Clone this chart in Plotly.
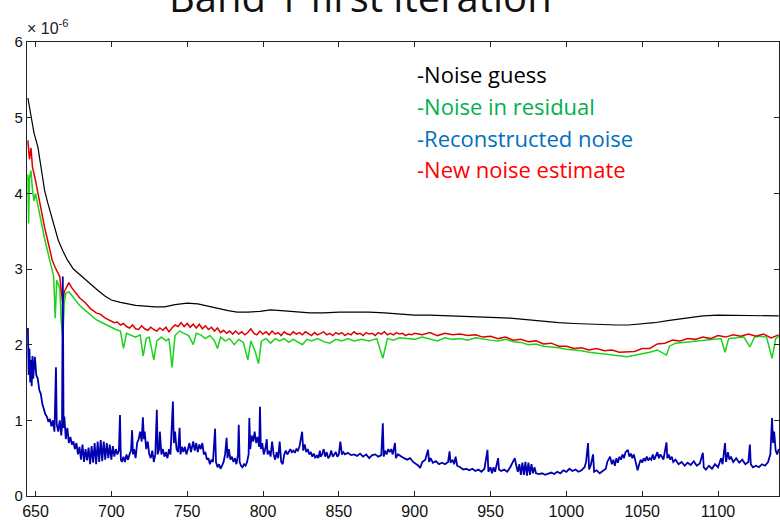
import plotly.graph_objects as go

# ---------------- data (values in units of 1e-6) ----------------
guess_x = [645, 647, 649, 651.6, 654, 656, 658, 661, 663, 665, 668, 671, 675, 681, 686, 691, 696, 700, 706,
           716, 729, 735, 742, 750, 757, 763, 770, 777, 783, 790, 798, 805, 812, 820, 831, 840, 850, 860,
           870, 880, 890, 900, 910, 920, 930, 941, 950, 963, 975, 987, 995, 1005, 1015, 1025, 1033, 1041,
           1049, 1058, 1068, 1078, 1090, 1100, 1112, 1125, 1140]
guess_y = [5.26, 5.05, 4.80, 4.61, 4.30, 4.04, 3.88, 3.65, 3.50, 3.38, 3.24, 3.12, 3.00, 2.89, 2.80, 2.72,
           2.64, 2.59, 2.56, 2.52, 2.50, 2.50, 2.53, 2.55, 2.54, 2.51, 2.48, 2.45, 2.43, 2.43, 2.44, 2.46,
           2.45, 2.44, 2.42, 2.42, 2.43, 2.43, 2.43, 2.42, 2.40, 2.39, 2.39, 2.38, 2.37, 2.36, 2.36, 2.35,
           2.33, 2.30, 2.29, 2.28, 2.27, 2.26, 2.26, 2.26, 2.27, 2.29, 2.32, 2.35, 2.38, 2.39, 2.39, 2.38, 2.38]

resid_x = [645, 645.5, 646, 647, 648, 649, 650, 652, 654, 656, 658, 660, 661, 662, 663, 664, 665, 666, 667,
           668, 669, 670, 672, 674, 676, 679, 683, 686, 690, 693, 696, 700, 703, 706, 708, 710, 713, 716, 719,
           721, 723, 725, 728, 730, 733, 736, 738, 740, 742, 745, 748, 751, 754, 756, 759, 762, 765, 768, 770,
           772, 775, 778, 781, 784, 787, 790, 792, 795, 797, 799, 802, 805, 808, 811, 814, 817, 820, 823, 826,
           829, 832, 836, 840, 844, 848, 852, 856, 860, 865, 870, 875, 879, 882, 886, 890, 895, 900, 905, 910,
           915, 920, 925, 930, 935, 940, 945, 950, 955, 960, 965, 970, 975, 980, 985, 990, 995, 1000, 1005,
           1010, 1015, 1020, 1025, 1030, 1035, 1040, 1045, 1050, 1055, 1060, 1066, 1068, 1072, 1077, 1082,
           1087, 1092, 1097, 1102, 1104.6, 1107, 1112, 1117, 1121, 1124, 1128, 1132, 1135.6, 1138, 1140]
resid_y = [4.25, 3.60, 4.20, 4.30, 4.05, 3.90, 4.00, 3.78, 3.60, 3.40, 3.22, 3.05, 2.98, 2.90, 2.35, 2.85,
           2.80, 2.75, 2.30, 2.10, 2.55, 2.68, 2.70, 2.65, 2.60, 2.52, 2.45, 2.40, 2.33, 2.30, 2.27, 2.22,
           2.20, 2.18, 1.95, 2.15, 2.12, 2.10, 2.13, 1.85, 2.08, 2.10, 1.80, 2.05, 2.10, 2.05, 2.08, 1.70,
           2.12, 2.18, 2.15, 2.12, 2.00, 2.15, 2.13, 2.08, 2.12, 2.05, 1.95, 2.10, 2.05, 2.08, 2.00, 2.07,
           2.03, 1.80, 2.05, 1.90, 1.75, 2.05, 2.08, 2.02, 2.08, 2.05, 2.08, 2.03, 2.07, 2.04, 2.00, 2.07,
           2.05, 2.08, 2.04, 2.02, 2.07, 2.05, 2.08, 2.05, 2.07, 2.05, 2.08, 1.82, 2.08, 2.06, 2.09, 2.08,
           2.07, 2.10, 2.08, 2.05, 2.09, 2.07, 2.08, 2.06, 2.09, 2.07, 2.06, 2.05, 2.07, 2.04, 2.03, 2.00,
           2.01, 1.98, 1.97, 1.96, 1.94, 1.93, 1.92, 1.90, 1.89, 1.88, 1.86, 1.85, 1.84, 1.86, 1.88, 1.90,
           1.93, 1.86, 1.98, 2.02, 2.03, 2.04, 2.05, 2.06, 2.07, 2.08, 1.90, 2.08, 2.09, 2.10, 1.97, 2.10,
           2.11, 2.10, 1.82, 2.08, 2.11]

est_x = [645, 646, 647, 648, 650, 652, 654, 656, 658, 661, 663, 665, 666, 667, 668, 669, 671, 672, 674, 676,
         679, 683, 686, 690, 693, 696,
         700, 702, 704, 706, 708, 710, 712, 714, 716, 718, 720, 722, 724, 726, 728, 730, 732, 734, 736, 738,
         740, 742, 744, 746, 748, 750, 752, 754, 756, 758, 760, 762, 764, 766, 768, 770, 772, 774, 776, 778,
         780, 782, 784, 786, 788, 790, 792, 794, 796, 798, 800, 802, 804, 806, 808, 810, 812, 814, 816, 818,
         820, 822, 824, 826, 828, 830, 832, 834, 836, 838, 840, 842, 844, 846, 848, 850, 852, 854, 856, 858,
         860, 862, 864, 866, 868, 870, 872, 874, 876, 878, 880, 882, 884, 886, 888, 890, 892, 894, 896, 898,
         900, 905, 910, 915, 920, 925, 930, 935, 940, 945, 950, 955, 960, 965, 970, 975, 980, 985, 990, 995,
         1000, 1005, 1010, 1015, 1020, 1025, 1030, 1035, 1040, 1045, 1050, 1055, 1060, 1065, 1070, 1075,
         1080, 1085, 1090, 1095, 1100, 1105, 1110, 1115, 1120, 1125, 1130, 1135, 1140]
est_y = [4.70, 4.45, 4.60, 4.35, 4.17, 3.95, 3.74, 3.55, 3.38, 3.12, 3.02, 2.95, 2.90, 2.70, 2.55, 2.70,
         2.78, 2.82, 2.75, 2.70, 2.62, 2.55, 2.48, 2.42, 2.40, 2.35,
         2.31, 2.29, 2.30, 2.26, 2.28, 2.24, 2.22, 2.26, 2.21, 2.20, 2.25, 2.21, 2.19, 2.23, 2.20, 2.18,
         2.22, 2.19, 2.23, 2.17, 2.22, 2.26, 2.24, 2.29, 2.24, 2.28, 2.23, 2.27, 2.22, 2.27, 2.21, 2.25,
         2.20, 2.23, 2.18, 2.22, 2.16, 2.19, 2.15, 2.18, 2.14, 2.18, 2.14, 2.17, 2.13, 2.16, 2.21, 2.15,
         2.13, 2.18, 2.14, 2.17, 2.13, 2.18, 2.14, 2.16, 2.12, 2.17, 2.14, 2.13, 2.17, 2.14, 2.16, 2.13,
         2.17, 2.15, 2.12, 2.16, 2.13, 2.15, 2.17, 2.13, 2.15, 2.12, 2.16, 2.14, 2.16, 2.12, 2.15, 2.13,
         2.17, 2.14, 2.15, 2.12, 2.16, 2.14, 2.15, 2.12, 2.16, 2.14, 2.17, 2.13, 2.15, 2.13, 2.16, 2.14,
         2.15, 2.12, 2.14, 2.13,
         2.15, 2.13, 2.16, 2.12, 2.15, 2.13, 2.14, 2.12, 2.13, 2.10, 2.11, 2.08, 2.10, 2.06, 2.07, 2.04,
         2.05, 2.01, 2.02, 1.98, 1.98, 1.95, 1.96, 1.93, 1.95, 1.92, 1.93, 1.90, 1.91, 1.91, 1.95, 1.95,
         2.01, 2.02, 2.06, 2.05, 2.08, 2.07, 2.10, 2.08, 2.12, 2.10, 2.13, 2.11, 2.14, 2.11, 2.14, 2.09, 2.13]

recon_x = [645, 645.5, 646, 646.5, 647, 647.5, 648, 648.5, 649, 649.6, 650.5, 651.5, 652.5, 653.5, 654.5,
           655.5, 656.5, 657.5, 658.5, 659.5, 660.5, 661.5, 662.5, 663.5, 664, 665, 666, 667, 667.5, 668,
           668.5, 669, 670, 671, 672, 673, 674, 675, 676, 677, 678, 679, 680, 681, 682, 683, 684, 685, 686,
           687, 688, 689, 690, 691, 692, 693, 694, 695, 696, 697, 698, 699, 700, 701, 702, 703, 704, 705,
           705.7, 706.3, 707, 708, 709, 710, 711, 712, 713, 713.7, 714.3, 715, 716, 717, 718, 719, 720,
           720.8, 721.5, 722, 723, 724, 725, 726, 727, 728, 729, 730, 730.6, 731.5, 732, 733, 734, 735, 736,
           737, 738, 739, 740.6, 741.2, 742, 743, 744, 745, 745.6, 746.5, 747.5, 748.5, 749.5, 750.5, 751.5,
           752.5, 753.5, 754, 755, 756, 757, 758, 759, 760, 761, 762, 763, 764, 765, 766, 767, 768.4, 769,
           770, 771, 772, 773, 774, 775, 776, 776.6, 777.5, 778.5, 779.5, 780.5, 781.5, 782.5, 783.5, 784,
           784.6, 785.5, 786.5, 787.5, 788.5, 789.5, 790.5, 791, 791.6, 792.5, 793.5, 794.5, 795.5, 796.5,
           797.5, 798, 798.6, 799.5, 800.5, 801.5, 802.5, 803, 804, 805, 806, 807, 808, 809, 810, 811, 812,
           813, 814, 815, 816, 817, 818, 819, 820, 821, 822, 823, 824, 825.8, 826.5, 827.5, 828.5, 829.5,
           830.5, 831.5, 832.5, 833.5, 834.5, 835.5, 836.5, 837.5, 838, 839, 840, 841, 842, 843, 844, 845,
           846, 847, 848, 849, 850, 851, 852, 853, 854, 856, 858, 860, 862, 864, 866, 868, 870, 872, 874,
           876, 878, 879, 879.6, 880.5, 881.5, 882.5, 883.5, 884.5, 885.5, 887, 887.6, 889, 891, 893, 895,
           897, 899, 901, 902.5, 903.6, 905, 907, 908.8, 909.5, 910.5, 912, 914, 916, 918, 920, 922, 923,
           923.6, 925, 926, 927, 928, 930, 932, 934, 936, 938, 940, 942, 944, 946, 948, 948.6, 950, 951,
           952, 953, 954, 955, 955.6, 957, 959, 961, 963, 965, 966, 967, 968, 969, 970, 971, 972, 973, 974,
           975, 976, 977, 978, 979, 980, 982, 984, 986, 988, 990, 992, 994, 996, 998, 1000, 1002, 1004, 1006,
           1008, 1010, 1012, 1013, 1014.3, 1015, 1016, 1017.6, 1018.3, 1020, 1022, 1024, 1026, 1027, 1028.8,
           1030, 1031, 1032, 1033, 1034, 1035, 1036, 1037, 1038, 1039, 1040.6, 1041.5, 1042.5, 1043.5,
           1044.5, 1045.5, 1047, 1048, 1049, 1050, 1051, 1052, 1053, 1054, 1055, 1056, 1057, 1058, 1059,
           1060, 1061, 1062, 1063, 1064, 1066, 1066.6, 1067.5, 1068.5, 1069.5, 1070.5, 1072, 1074, 1076,
           1078, 1080, 1082, 1084, 1086, 1088, 1090, 1090.6, 1092, 1094, 1096, 1098, 1100, 1102, 1103,
           1104.6, 1105.3, 1106.5, 1107.5, 1108.5, 1110, 1112, 1114, 1116, 1118, 1120, 1121, 1121.6, 1123,
           1125, 1127, 1129, 1131, 1133, 1134.5, 1135.6, 1136.3, 1137, 1138, 1139, 1140]
recon_y = [2.22, 1.60, 1.95, 1.50, 1.80, 1.45, 1.85, 1.55, 1.70, 1.84, 1.60, 1.55, 1.40, 1.35, 1.22, 1.15,
           1.08, 1.05, 0.98, 1.02, 0.92, 1.00, 0.85, 1.70, 0.95, 0.85, 1.00, 0.80, 0.95, 2.90, 0.90, 1.05,
           0.75, 0.90, 0.70, 0.78, 0.68, 0.72, 0.62, 0.70, 0.55, 0.65, 0.48, 0.68, 0.45, 0.62, 0.47, 0.64,
           0.42, 0.66, 0.44, 0.70, 0.42, 0.72, 0.45, 0.74, 0.46, 0.72, 0.48, 0.70, 0.50, 0.68, 0.48, 0.66,
           0.52, 0.62, 0.55, 0.60, 1.07, 0.48, 0.45, 0.52, 0.45, 0.55, 0.48, 0.55, 0.60, 0.87, 0.55, 0.62,
           0.50, 0.70, 0.75, 0.85, 0.72, 1.04, 0.75, 0.85, 0.62, 0.72, 0.55, 0.50, 0.60, 0.45, 0.55, 1.14,
           0.55, 0.62, 0.85, 0.55, 0.62, 0.52, 0.58, 0.50, 0.62, 0.55, 1.25, 0.70, 0.85, 0.62, 0.58, 0.90,
           0.55, 0.65, 0.58, 0.65, 0.55, 0.62, 0.70, 0.58, 0.65, 0.72, 0.60, 0.70, 0.58, 0.68, 0.62, 0.70,
           0.55, 0.58, 0.48, 0.50, 0.42, 0.48, 0.45, 0.89, 0.45, 0.38, 0.42, 0.36, 0.40, 0.45, 0.55, 0.77,
           0.50, 0.62, 0.48, 0.52, 0.45, 0.50, 0.42, 0.55, 0.94, 0.45, 0.40, 0.38, 0.42, 0.40, 0.45, 0.55,
           1.03, 0.62, 0.80, 0.72, 0.85, 0.70, 0.78, 0.65, 1.18, 0.62, 0.70, 0.55, 0.62, 0.75, 0.55, 0.60,
           0.52, 0.72, 0.55, 0.48, 0.58, 0.50, 0.72, 0.45, 0.42, 0.55, 0.60, 0.55, 0.58, 0.62, 0.58, 0.60,
           0.57, 0.62, 0.60, 0.65, 0.85, 0.60, 0.68, 0.58, 0.62, 0.55, 0.58, 0.52, 0.56, 0.50, 0.54, 0.50,
           0.60, 0.52, 0.55, 0.62, 0.52, 0.58, 0.50, 0.53, 0.60, 0.52, 0.55, 0.58, 0.52, 0.55, 0.72, 0.55,
           0.58, 0.55, 0.57, 0.54, 0.55, 0.53, 0.56, 0.52, 0.55, 0.50, 0.54, 0.55, 0.52, 0.54, 0.96, 0.52,
           0.60, 0.55, 0.62, 0.58, 0.62, 0.55, 0.70, 0.50, 0.55, 0.52, 0.50, 0.48, 0.50, 0.45, 0.42, 0.40,
           0.37, 0.45, 0.48, 0.61, 0.45, 0.50, 0.44, 0.46, 0.42, 0.44, 0.42, 0.45, 0.59, 0.44, 0.48, 0.42,
           0.52, 0.40, 0.38, 0.35, 0.36, 0.34, 0.36, 0.33, 0.35, 0.32, 0.36, 0.61, 0.32, 0.38, 0.30, 0.38,
           0.32, 0.40, 0.50, 0.35, 0.33, 0.35, 0.32, 0.38, 0.45, 0.50, 0.40, 0.32, 0.42, 0.28, 0.44, 0.28,
           0.45, 0.27, 0.44, 0.28, 0.42, 0.30, 0.38, 0.30, 0.29, 0.30, 0.28, 0.30, 0.31, 0.29, 0.32, 0.30,
           0.34, 0.32, 0.36, 0.33, 0.35, 0.32, 0.34, 0.38, 0.45, 0.70, 0.35, 0.40, 0.55, 0.32, 0.34, 0.30,
           0.33, 0.36, 0.45, 0.52, 0.42, 0.48, 0.40, 0.50, 0.44, 0.52, 0.48, 0.55, 0.50, 0.58, 0.61, 0.52,
           0.56, 0.50, 0.55, 0.45, 0.34, 0.42, 0.48, 0.44, 0.50, 0.46, 0.52, 0.47, 0.50, 0.48, 0.55, 0.48,
           0.52, 0.58, 0.50, 0.55, 0.52, 0.48, 0.71, 0.50, 0.55, 0.48, 0.52, 0.45, 0.48, 0.42, 0.45, 0.40,
           0.44, 0.41, 0.46, 0.40, 0.43, 0.57, 0.38, 0.35, 0.40, 0.36, 0.42, 0.38, 0.50, 0.42, 0.70, 0.45,
           0.58, 0.48, 0.52, 0.45, 0.50, 0.44, 0.48, 0.42, 0.45, 0.68, 0.42, 0.38, 0.40, 0.38, 0.42, 0.40,
           0.45, 0.55, 1.03, 0.70, 0.85, 0.60, 0.55, 0.62]

x_ticks = [650, 700, 750, 800, 850, 900, 950, 1000, 1050, 1100]
y_ticks = [0, 1, 2, 3, 4, 5, 6]

title_text = "Band 1 first iteration"
legend_labels = ["-Noise guess", "-Noise in residual", "-Reconstructed noise", "-New noise estimate"]
legend_colors = ["#000000", "#00b050", "#0070c0", "#ff0000"]

# ---------------- figure ----------------
fig = go.Figure()
fig.add_trace(go.Scatter(x=guess_x, y=guess_y, mode="lines", line=dict(color="#000000", width=1.2),
                         name=legend_labels[0]))
fig.add_trace(go.Scatter(x=resid_x, y=resid_y, mode="lines", line=dict(color="#19d419", width=1.5),
                         name=legend_labels[1]))
fig.add_trace(go.Scatter(x=est_x, y=est_y, mode="lines", line=dict(color="#e00000", width=1.5),
                         name=legend_labels[3]))
fig.add_trace(go.Scatter(x=recon_x, y=recon_y, mode="lines", line=dict(color="#0000b0", width=1.8),
                         name=legend_labels[2]))

axis_common = dict(showgrid=False, zeroline=False, showline=True, linecolor="#222222", linewidth=1.3,
                   mirror="ticks", ticks="inside", ticklen=5, tickcolor="#222222", automargin=False)
fig.update_xaxes(range=[644.4, 1140.2], tickvals=x_ticks, ticktext=[str(v) for v in x_ticks],
                 tickfont=dict(family="Liberation Sans", size=16, color="#111111"), ticklabelstandoff=1,
                 **axis_common)
fig.update_yaxes(range=[0, 6], tickvals=y_ticks, ticktext=[str(v) for v in y_ticks],
                 tickfont=dict(family="Liberation Sans", size=15, color="#111111"), **axis_common)

annotations = [
    dict(text=title_text, x=(360 - 27) / 752, y=1.0346, xref="paper", yref="paper", xanchor="center",
         yanchor="bottom", showarrow=False, font=dict(family="Open Sans", size=40, color="#111111")),
    dict(text="\u00d7 10<sup>-6</sup>", x=-0.002, y=1.006, xref="paper", yref="paper", xanchor="left",
         yanchor="bottom", showarrow=False, font=dict(family="Liberation Sans", size=16, color="#222222")),
]
leg_y = [6 - (74 - 42) / 75.67, 6 - (106 - 42) / 75.67, 6 - (138 - 42) / 75.67, 6 - (169 - 42) / 75.67]
for lab, col, yy in zip(legend_labels, legend_colors, leg_y):
    annotations.append(dict(text=lab, x=(415 - 27) / 752, y=yy, xref="paper", yref="y", xanchor="left",
                            yanchor="middle", showarrow=False,
                            font=dict(family="Open Sans", size=22, color=col)))

fig.update_layout(width=780, height=521, margin=dict(l=27, r=1, t=42, b=25),
                  paper_bgcolor="white", plot_bgcolor="white", showlegend=False,
                  annotations=annotations)

fig.write_html("out.html", config={"displayModeBar": False},
               post_script="document.body.style.margin='0px';document.body.style.overflow='hidden';")
